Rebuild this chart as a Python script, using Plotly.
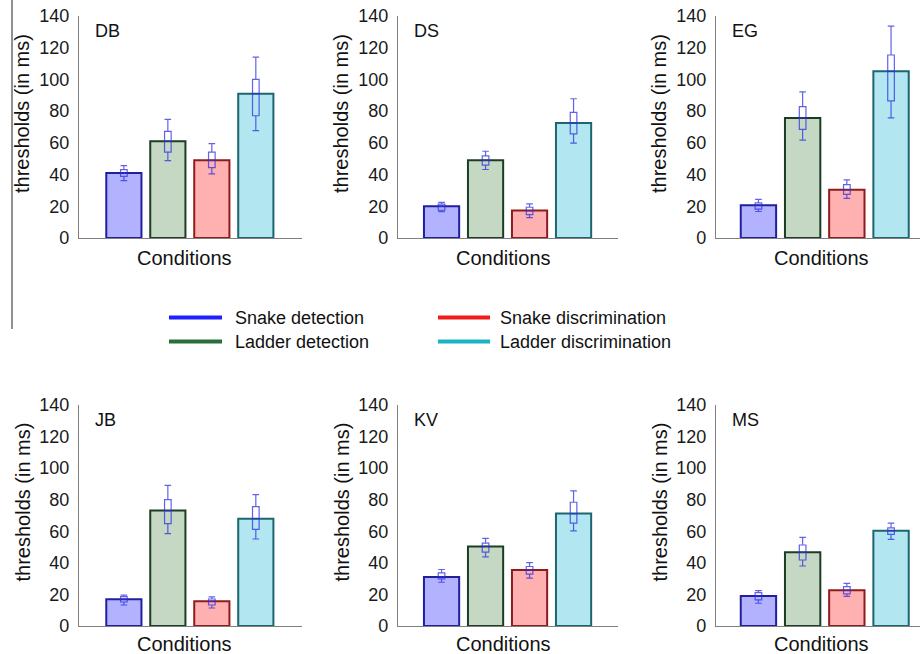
import plotly.graph_objects as go

# ---------------- data ----------------
subjects = ["DB", "DS", "EG", "JB", "KV", "MS"]
conditions = ["Snake detection", "Ladder detection", "Snake discrimination", "Ladder discrimination"]

threshold_means = [
    [41.0, 61.0, 49.0, 91.0],
    [20.0, 49.0, 17.3, 72.5],
    [20.7, 75.7, 30.5, 105.1],
    [16.9, 73.1, 15.6, 68.0],
    [31.1, 50.4, 35.4, 71.2],
    [19.0, 46.7, 22.6, 60.4],
]
whisker_low = [
    [36.2, 48.8, 40.4, 67.7],
    [16.6, 43.2, 12.8, 59.8],
    [16.7, 61.7, 25.0, 75.7],
    [13.3, 58.5, 11.4, 55.1],
    [27.7, 43.8, 30.3, 60.2],
    [14.4, 38.0, 18.8, 54.9],
]
whisker_high = [
    [45.6, 74.8, 59.5, 114.1],
    [22.5, 54.7, 21.5, 87.8],
    [24.3, 92.2, 36.6, 133.6],
    [19.6, 89.1, 18.4, 83.2],
    [35.8, 55.5, 40.2, 85.6],
    [22.4, 56.2, 27.0, 65.2],
]
box_low = [
    [38.9, 54.2, 44.4, 77.1],
    [17.5, 45.9, 14.7, 65.7],
    [18.2, 68.5, 27.5, 86.5],
    [15.2, 64.8, 13.3, 61.2],
    [29.9, 46.8, 32.8, 65.2],
    [16.5, 41.8, 20.3, 58.1],
]
box_high = [
    [43.1, 67.3, 54.2, 100.0],
    [21.3, 51.8, 19.4, 79.2],
    [22.2, 82.9, 33.6, 115.4],
    [18.6, 80.0, 17.1, 75.6],
    [33.7, 52.5, 37.7, 78.4],
    [21.1, 51.3, 24.9, 62.1],
]
y_ticks = [0, 20, 40, 60, 80, 100, 120, 140]

# ---------------- styles ----------------
W, H = 920, 654
FONT = "Liberation Sans, Arial, sans-serif"
bar_fill = ["#b2b2ff", "#c4d8c4", "#ffb0b0", "#b2e6f0"]
bar_edge = ["#20209e", "#1c3d24", "#8e1c1c", "#1d6670"]
legend_col = ["#1f1fff", "#2a6e3c", "#f01c1c", "#1ab4c6"]
box_col = "rgba(45,45,225,0.75)"

def px(x):
    return x / W

def py(y):
    return 1 - y / H

col_dom = [(79, 302), (398, 618), (716, 920)]
col_rng = [(-1.02, 4.05), (-0.99, 4.01), (-0.96, 3.655)]
row_dom = [(16, 238), (405, 626)]
cond_label_y = [258, 644]

fig = go.Figure()
annotations = []
shapes = []

for i, subj in enumerate(subjects):
    r, c = divmod(i, 3)
    n = i + 1
    xa = "x" if n == 1 else f"x{n}"
    ya = "y" if n == 1 else f"y{n}"
    fig.add_trace(go.Bar(
        x=conditions, y=threshold_means[i], xaxis=xa, yaxis=ya,
        width=0.8,
        marker=dict(color=bar_fill, line=dict(color=bar_edge, width=2)),
        showlegend=False, hoverinfo="y",
    ))
    fig.add_trace(go.Box(
        x=conditions, q1=box_low[i], median=threshold_means[i], q3=box_high[i],
        lowerfence=whisker_low[i], upperfence=whisker_high[i],
        xaxis=xa, yaxis=ya, width=0.15, whiskerwidth=1,
        line=dict(color=box_col, width=1.2), fillcolor="rgba(0,0,0,0)",
        boxpoints=False, showlegend=False,
    ))
    x0, x1 = col_dom[c]
    ytop, ybot = row_dom[r]
    fig.layout[f"xaxis{'' if n == 1 else n}"] = dict(
        domain=[px(x0), px(x1)], anchor=ya, range=list(col_rng[c]),
        showline=True, linecolor="#7f7f7f", linewidth=1.2,
        showticklabels=False, ticks="", showgrid=False, zeroline=False,
        fixedrange=True, automargin=False,
    )
    fig.layout[f"yaxis{'' if n == 1 else n}"] = dict(
        domain=[py(ybot), py(ytop)], anchor=xa, range=[0, 140],
        tickvals=y_ticks, ticks="", showline=True, linecolor="#7f7f7f",
        linewidth=1.2, showgrid=False, zeroline=False,
        tickfont=dict(size=18, color="#1a1a1a", family=FONT),
        ticklabelstandoff=5, fixedrange=True, automargin=False,
    )
    # panel title
    annotations.append(dict(
        text=subj, x=px(x0 + 14), y=py(ytop + 15), xref="paper", yref="paper",
        xanchor="left", yanchor="middle", showarrow=False,
        font=dict(size=18, color="#111", family=FONT),
    ))
    # x axis title
    annotations.append(dict(
        text="Conditions", x=px(x0 + 111.5 - 6), y=py(cond_label_y[r]),
        xref="paper", yref="paper", xanchor="center", yanchor="middle",
        showarrow=False, font=dict(size=20, color="#111", family=FONT),
    ))
    # y axis title
    annotations.append(dict(
        text="thresholds (in ms)", x=px(x0 - 57), y=py((ytop + ybot) / 2 - 13),
        xref="paper", yref="paper", xanchor="center", yanchor="middle",
        textangle=-90, showarrow=False,
        font=dict(size=20, color="#111", family=FONT),
    ))

# legend (drawn manually in two columns)
legend_pos = [(169, 222, 233, 317.5), (169, 222, 233, 341.5), (438, 490, 498, 317.5), (438, 490, 498, 341.5)]
for k, name in enumerate(conditions):
    lx0, lx1, tx, ly = legend_pos[k]
    shapes.append(dict(type="line", xref="paper", yref="paper",
                       x0=px(lx0), x1=px(lx1), y0=py(ly), y1=py(ly),
                       line=dict(color=legend_col[k], width=4)))
    annotations.append(dict(
        text=name, x=px(tx), y=py(ly + 0.5), xref="paper", yref="paper",
        xanchor="left", yanchor="middle", showarrow=False,
        font=dict(size=18, color="#111", family=FONT),
    ))

# stray vertical rule at the left edge of the page
shapes.append(dict(type="line", xref="paper", yref="paper",
                   x0=px(12), x1=px(12), y0=py(0), y1=py(329),
                   line=dict(color="#222", width=1)))

fig.update_layout(
    width=W, height=H, margin=dict(l=0, r=0, t=0, b=0, autoexpand=False),
    paper_bgcolor="white", plot_bgcolor="white",
    annotations=annotations, shapes=shapes,
    font=dict(family=FONT), showlegend=False,
)

fig.write_html(
    "out.html",
    config={"displayModeBar": False},
    post_script="document.body.style.margin='0';document.body.style.overflow='hidden';",
)
